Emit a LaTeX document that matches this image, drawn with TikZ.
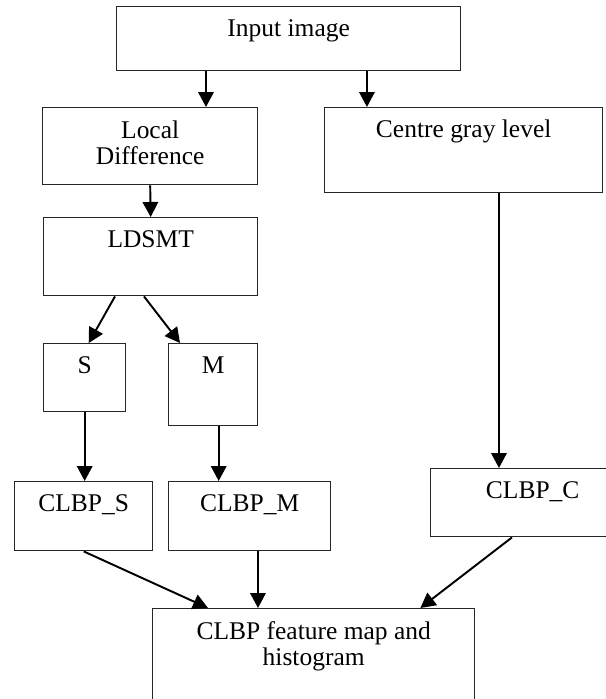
\documentclass[tikz,border=0pt]{standalone}
\usepackage{fontspec}
\setmainfont{Liberation Serif}
\usetikzlibrary{arrows.meta,positioning,calc}

\begin{document}
\begin{tikzpicture}[
  x=0.02cm, y=-0.02cm,
  font=\fontsize{14.5}{15.3}\selectfont,
  blk/.style={rectangle, draw=black!85, line width=0.8pt,
    anchor=north west, inner sep=0pt},
  txt/.style={anchor=base, yshift=-0.62cm, align=center, inner sep=0pt},
  txttwo/.style={txt, yshift=-0.54cm},
  arr/.style={-{Triangle[length=3mm, width=3.1mm]}, line width=1.1pt, draw=black}
]
\useasboundingbox (0,0) rectangle (605,699);

\node[blk, minimum width=6.88cm, minimum height=1.28cm,
  label={[txt]north:Input image}] (inp) at (116,6) {};
\node[blk, minimum width=4.3cm, minimum height=1.54cm,
  label={[txttwo]north:Local\\Difference}] (ld) at (42,107) {};
\node[blk, minimum width=5.56cm, minimum height=1.7cm,
  label={[txt]north:Centre gray level}] (cgl) at (324,107) {};
\node[blk, minimum width=4.28cm, minimum height=1.56cm,
  label={[txt]north:LDSMT}] (ldsmt) at (43,217) {};
\node[blk, minimum width=1.64cm, minimum height=1.36cm,
  label={[txt]north:S}] (s) at (43,343) {};
\node[blk, minimum width=1.78cm, minimum height=1.64cm,
  label={[txt]north:M}] (m) at (168,343) {};
\node[blk, minimum width=2.76cm, minimum height=1.38cm,
  label={[txt]north:CLBP\_S}] (cs) at (14,481) {};
\node[blk, minimum width=3.24cm, minimum height=1.38cm,
  label={[txt]north:CLBP\_M}] (cm) at (168,481) {};
\node[blk, minimum width=4.08cm, minimum height=1.36cm,
  label={[txt]north:CLBP\_C}] (cc) at (430,468) {};
\node[blk, minimum width=6.44cm, minimum height=2.4cm,
  label={[txttwo]north:CLBP feature map and\\histogram}] (feat) at (152,608) {};

% arrows
\draw[arr] ([xshift=1.8cm]inp.south west) -- ([xshift=1.8cm]inp.south west |- ld.north);
\draw[arr] ([xshift=5.02cm]inp.south west) -- ([xshift=5.02cm]inp.south west |- cgl.north);
\draw[arr] (ld.south) -- (ldsmt.north);
\draw[arr] ([xshift=1.44cm]ldsmt.south west) -- ([xshift=0.08cm]s.north);
\draw[arr] ([xshift=2.02cm]ldsmt.south west) -- ([xshift=0.24cm]m.north west);
\draw[arr] (s.south) -- (s.south |- cs.north);
\draw[arr] ([xshift=0.11cm]m.south) -- ([xshift=0.11cm]m.south |- cm.north);
\draw[arr] ([xshift=3.5cm]cgl.south west) -- ([xshift=3.5cm]cgl.south west |- cc.north);
\draw[arr] (cs.south) -- ([xshift=1.12cm]feat.north west);
\draw[arr] ([xshift=1.8cm]cm.south west) -- ([xshift=1.8cm]cm.south west |- feat.north);
\draw[arr] ([xshift=1.64cm]cc.south west) -- ([xshift=-1.1cm]feat.north east);

\end{tikzpicture}
\end{document}
